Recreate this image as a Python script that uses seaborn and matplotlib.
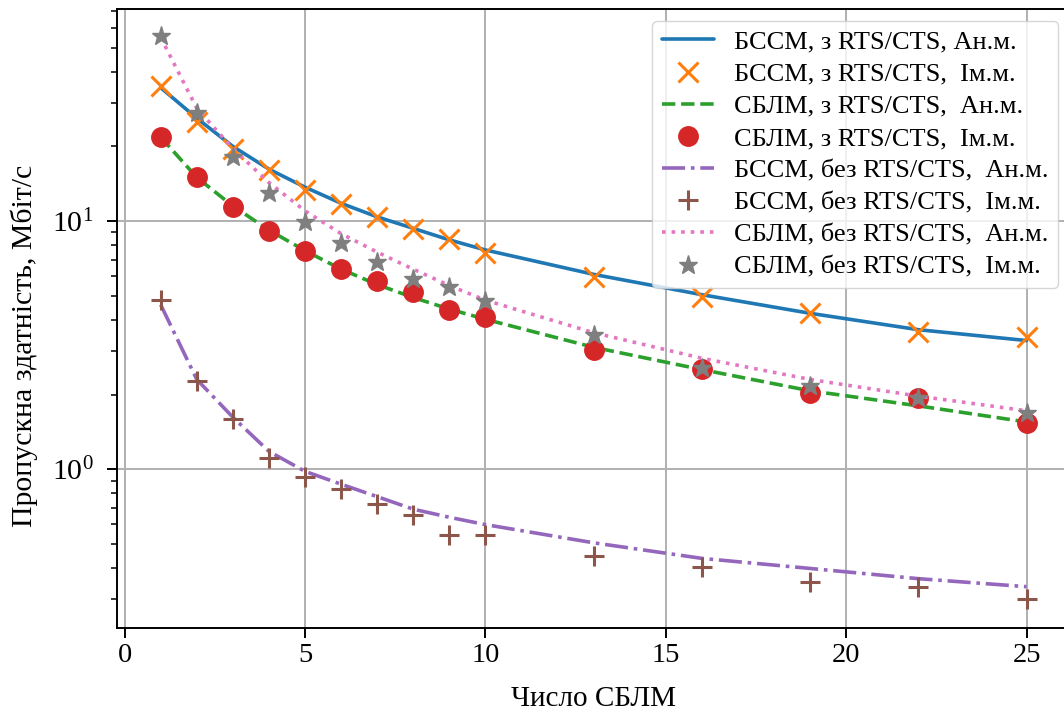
import matplotlib
matplotlib.use("Agg")
import matplotlib.pyplot as plt
import seaborn as sns

# ---- data ----
n_nodes = [1, 2, 3, 4, 5, 6, 7, 8, 9, 10, 13, 16, 19, 22, 25]

bssm_rts_an = [34.5, 26.0, 20.0, 16.2, 13.7, 11.8, 10.4, 9.35, 8.4, 7.65, 6.1, 5.05, 4.25, 3.65, 3.3]
bssm_rts_im = [35.0, 25.1, 19.5, 16.1, 13.3, 11.7, 10.4, 9.3, 8.45, 7.45, 5.95, 4.95, 4.26, 3.57, 3.41]
sblm_rts_an = [21.8, 15.0, 11.5, 9.2, 7.6, 6.4, 5.55, 4.92, 4.42, 4.02, 3.1, 2.52, 2.07, 1.8, 1.55]
sblm_rts_im = [21.8, 15.0, 11.36, 9.12, 7.59, 6.44, 5.73, 5.17, 4.38, 4.12, 3.02, 2.53, 2.02, 1.94, 1.54]
bssm_no_an = [4.6, 2.3, 1.62, 1.18, 0.98, 0.87, 0.775, 0.69, 0.64, 0.598, 0.505, 0.437, 0.398, 0.362, 0.336]
bssm_no_im = [4.83, 2.26, 1.60, 1.11, 0.93, 0.83, 0.727, 0.652, 0.542, 0.542, 0.446, 0.404, 0.351, 0.336, 0.301]
sblm_no_an = [55.0, 28.5, 19.6, 14.3, 11.0, 8.9, 7.5, 6.4, 5.5, 4.8, 3.55, 2.8, 2.3, 1.97, 1.72]
sblm_no_im = [55.7, 27.3, 18.1, 13.0, 9.93, 8.17, 6.86, 5.82, 5.4, 4.78, 3.47, 2.55, 2.16, 1.94, 1.68]

labels = [
    "БССМ, з RTS/CTS, Ан.м.",
    "БССМ, з RTS/CTS,  Ім.м.",
    "СБЛМ, з RTS/CTS,  Ан.м.",
    "СБЛМ, з RTS/CTS,  Ім.м.",
    "БССМ, без RTS/CTS,  Ан.м.",
    "БССМ, без RTS/CTS,  Ім.м.",
    "СБЛМ, без RTS/CTS,  Ан.м.",
    "СБЛМ, без RTS/CTS,  Ім.м.",
]
x_label = "Число СБЛМ"
y_label = "Пропускна здатність, Мбіт/с"

# ---- style ----
sns.set_theme(style="ticks")
plt.rcParams["font.family"] = ["Liberation Serif", "DejaVu Serif"]
plt.rcParams["mathtext.fontset"] = "stix"
plt.rcParams["axes.edgecolor"] = "black"
plt.rcParams["text.color"] = "black"
plt.rcParams["axes.labelcolor"] = "black"
plt.rcParams["xtick.color"] = "black"
plt.rcParams["ytick.color"] = "black"

pal = sns.color_palette("tab10")

fig = plt.figure(figsize=(10.64, 7.13), dpi=100)
ax = fig.add_axes([117.4 / 1064, (713 - 628) / 713, (1069.8 - 117.4) / 1064, (628 - 9) / 713])

series = [
    (bssm_rts_an, pal[0], "-", None),
    (bssm_rts_im, pal[1], "", "x"),
    (sblm_rts_an, pal[2], "--", None),
    (sblm_rts_im, pal[3], "", "o"),
    (bssm_no_an, pal[4], "-.", None),
    (bssm_no_im, pal[5], "", "+"),
    (sblm_no_an, pal[6], ":", None),
    (sblm_no_im, pal[7], "", "*"),
]
msizes = {"x": 15, "o": 14, "+": 15, "*": 14}
mews = {"x": 2.2, "o": 1.0, "+": 2.2, "*": 1.0}

for (vals, col, ls, mk), lab in zip(series, labels):
    if mk is None:
        sns.lineplot(x=n_nodes, y=vals, ax=ax, color=col, linestyle=ls, linewidth=2.6,
                     label=lab, errorbar=None)
    else:
        sns.lineplot(x=n_nodes, y=vals, ax=ax, color=col, linestyle="", marker=mk,
                     markersize=msizes[mk], markeredgecolor=col, markeredgewidth=mews[mk],
                     label=lab, errorbar=None)

ax.set_yscale("log")
ax.set_xlim(-0.2, 26.2)
ax.set_ylim(0.229, 71.6)
ax.set_xticks([0, 5, 10, 15, 20, 25])
ax.grid(True, which="major", color="#b0b0b0", linewidth=1.4)
ax.set_axisbelow(True)
for s in ax.spines.values():
    s.set_linewidth(1.4)
    s.set_color("black")
ax.tick_params(axis="both", which="major", labelsize=20.5, length=7, width=1.4, direction="out")
ax.tick_params(axis="y", which="major", labelsize=21.5, pad=10)
ax.tick_params(axis="both", which="minor", length=4, width=1.1, direction="out")

ax.set_xlabel(x_label, fontsize=21, labelpad=13)
ax.set_ylabel(y_label, fontsize=21.5)
ax.yaxis.set_label_coords(-0.083, 0.455)

leg = ax.legend(loc="upper right", fontsize=19, labelspacing=0.33, handlelength=2.0,
                frameon=True, framealpha=0.8, edgecolor="0.8", fancybox=True,
                borderpad=0.35, borderaxespad=0.45, handletextpad=0.75)

fig.savefig("out.png", dpi=100)
